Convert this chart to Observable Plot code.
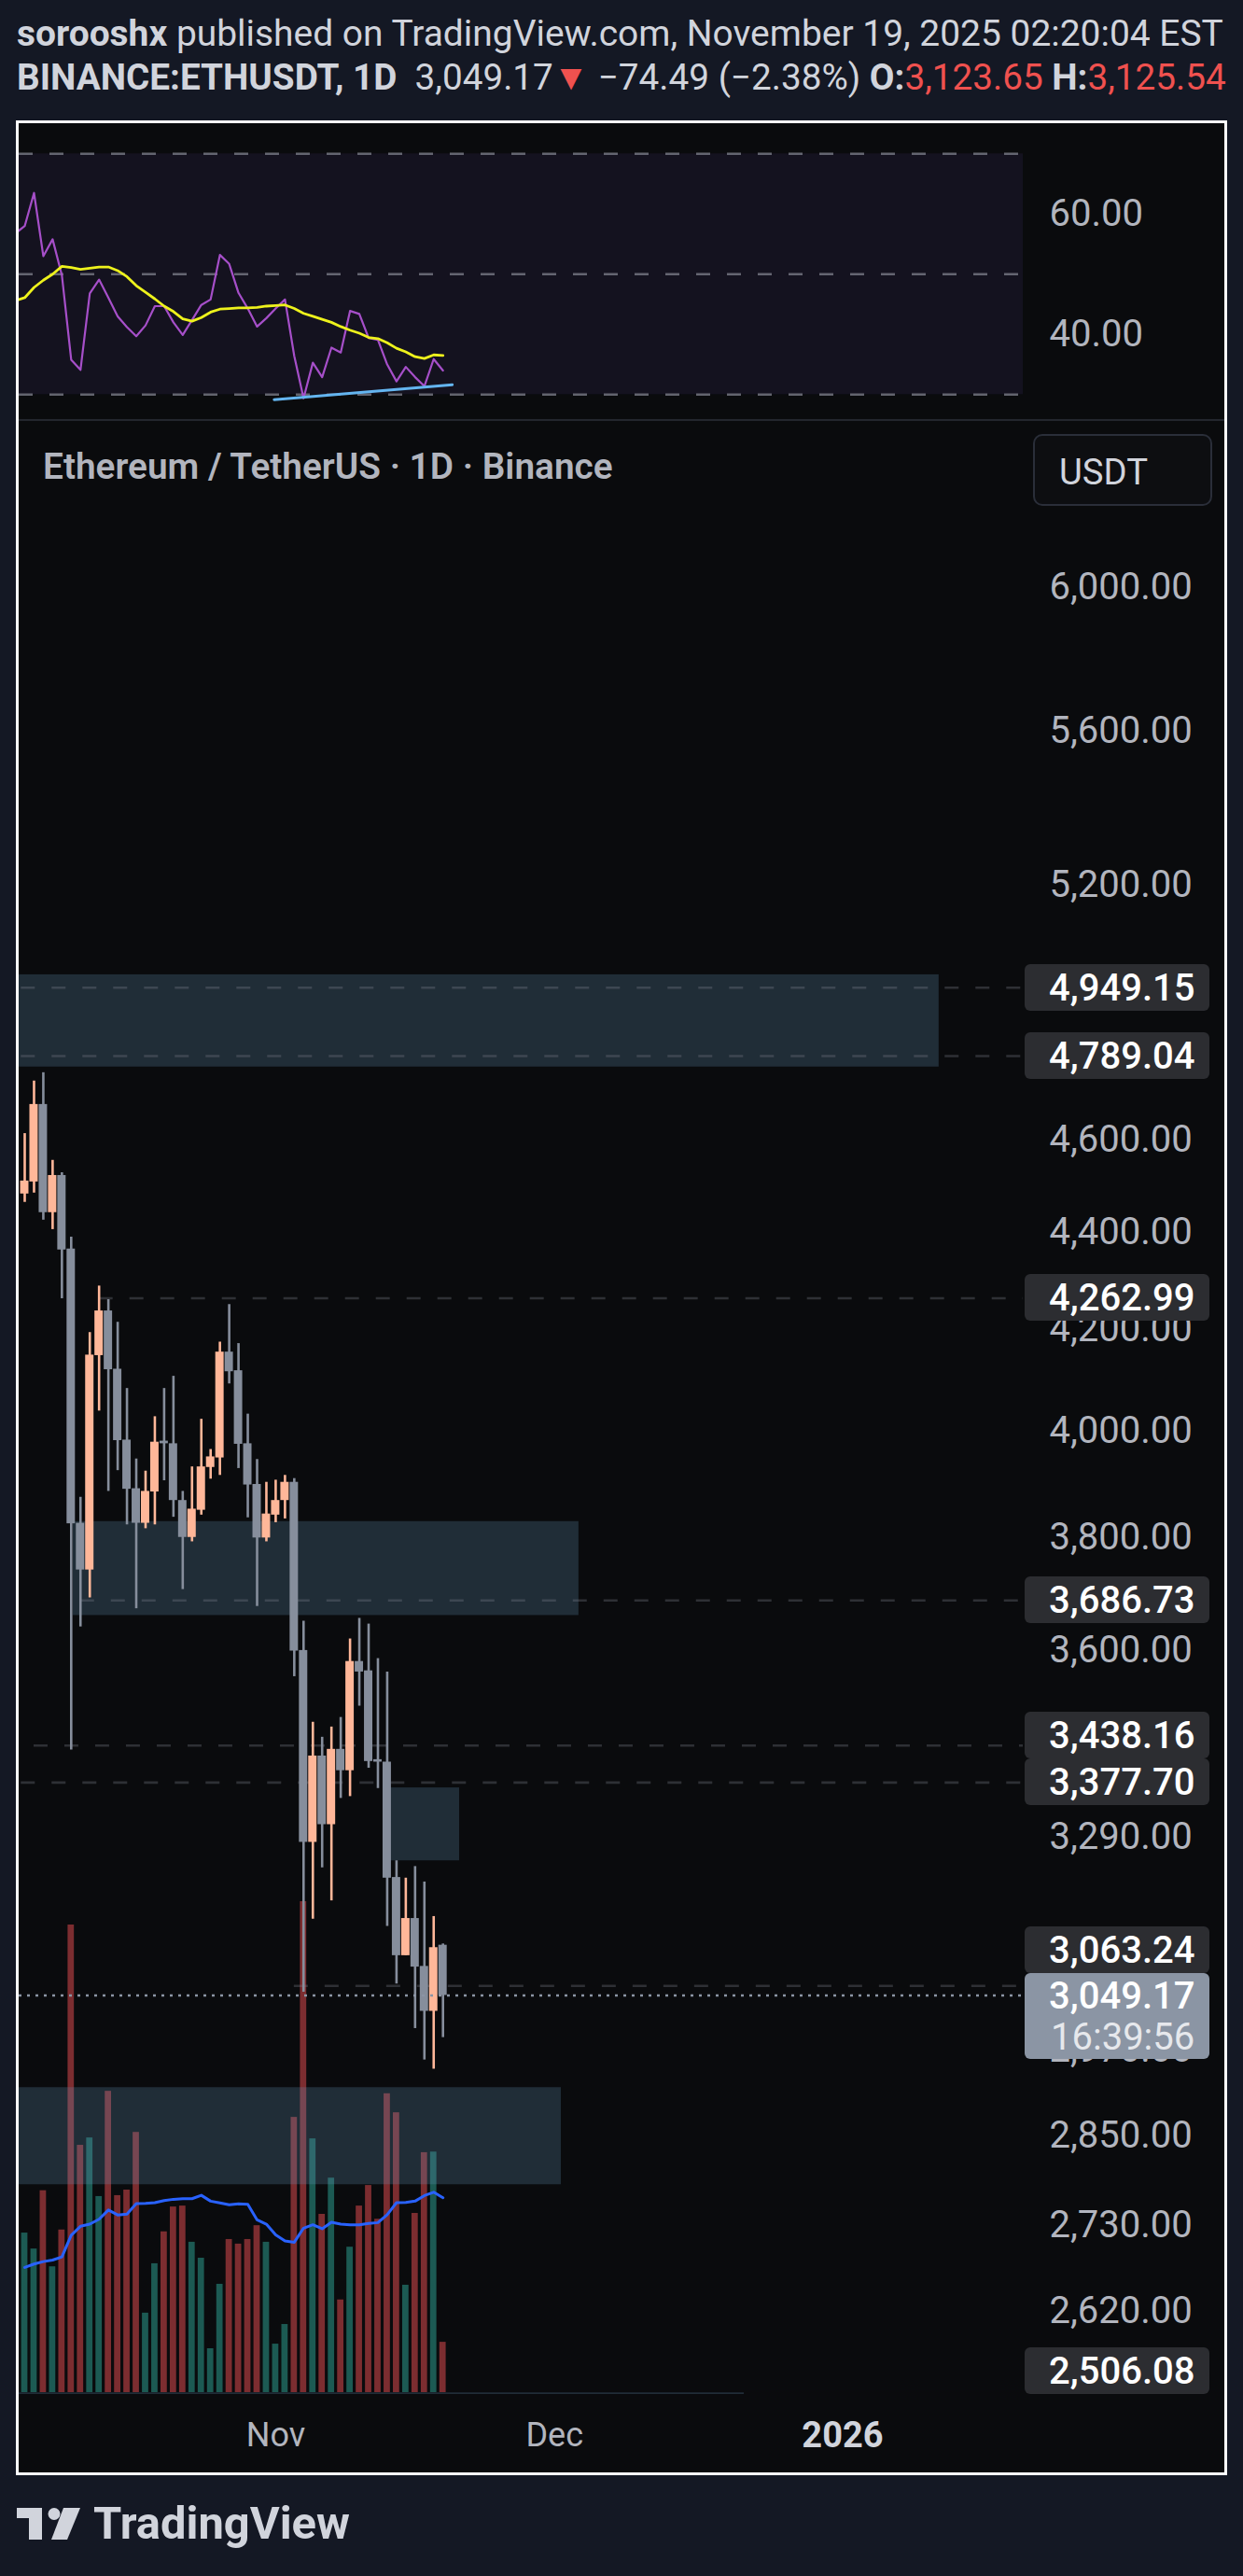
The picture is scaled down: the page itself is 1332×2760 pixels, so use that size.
<!DOCTYPE html>
<html><head><meta charset="utf-8">
<script src="https://cdn.jsdelivr.net/npm/d3@7"></script>
<script src="https://cdn.jsdelivr.net/npm/@observablehq/plot@0.6"></script>
<style>
html,body{margin:0;padding:0;background:#141824;}
#page{position:relative;width:1332px;height:2760px;overflow:hidden;background:#141824;font-family:Roboto,"Noto Sans",sans-serif;}
.txt{position:absolute;white-space:nowrap;line-height:1;}
.box{position:absolute;box-sizing:border-box;}
</style></head><body><div id="page"></div>
<script>
// ---------------- DATA ----------------
const firstDay = "2025-10-05", endDay = "2025-11-20";      // daily candles Oct 5 .. Nov 19
const opens  = [4482,4508,4679,4442,4522,4365,3826,3741,4147,4237,4120,3982,3890,3826,3884,3980,3975,3868,3800,3850,3930,3948,4154,4117,3975,3898,3799,3841,3868,3902,3599,3282,3421,3310,3432,3397,3580,3564,3415,3411,3227,3108,3164,3092,3026,3123.65];
const highs  = [4614,4732,4751,4555,4528,4390,3874,4193,4288,4260,4214,4082,3946,3923,4027,4082,4106,3885,3931,4022,3964,4174,4250,4171,4032,3945,3902,3906,3915,3909,3650,3477,3452,3469,3485,3619,3655,3645,3585,3562,3253,3226,3244,3220,3167,3125.54];
const lows   = [4464,4484,4426,4406,4262,3431,3640,3691,4038,3885,3924,3823,3672,3816,3823,3905,3837,3706,3792,3841,3908,3915,4091,3928,3836,3676,3792,3827,3834,3554,3054,3163,3242,3191,3352,3355,3504,3401,3368,3152,3066,3108,3001,2956,2943,2988];
const closes = [4510,4679,4442,4522,4363,3825,3741,4148,4237,4119,3981,3889,3826,3885,3978,3975,3868,3800,3852,3931,3950,4154,4115,3974,3897,3799,3843,3868,3902,3598,3282,3421,3310,3432,3397,3580,3562,3412,3411,3226,3108,3164,3091,3026,3120,3049.17];
const volumes  = [520,468,658,410,530,1524,806,830,639,982,642,660,848,259,420,524,605,608,490,438,143,353,499,484,499,544,490,158,222,897,1600,827,581,699,302,474,608,675,565,974,912,350,584,782,784,164]; // K ETH
const volumeMA = [408,419,427,432,442,513,542,549,565,595,579,582,616,617,619,626,630,632,632,643,624,618,612,615,614,563,549,514,494,490,536,547,534,555,549,547,547,551,554,580,619,620,624,642,653,635];
// RSI pane (starts one day earlier, Oct 4)
const rsiFirstDay = "2025-10-04";
const rsiValues = [56.8,58.0,63.5,53.0,55.8,49.8,35.8,34.1,46.8,49.1,46.1,43.0,41.2,39.7,41.5,44.7,44.7,42.0,39.9,42.4,44.9,45.8,53.2,51.7,46.9,44.3,41.3,42.7,44.3,45.8,36.4,29.4,35.3,32.9,37.8,37.0,43.9,43.4,39.4,39.1,35.0,32.2,34.6,32.9,31.4,35.9,34.0];
const rsiMA     = [45.6,46.1,47.8,49.0,50.0,51.3,51.1,50.8,51.0,51.2,51.2,50.6,49.6,48.1,47.0,45.9,44.7,43.8,42.6,42.2,42.8,43.7,44.2,44.3,44.4,44.4,44.5,44.7,44.8,44.9,44.3,43.5,43.0,42.5,42.0,41.3,40.7,40.2,39.5,39.3,38.6,37.7,37.1,36.3,36.0,36.6,36.5];
const rsiLevels = [70, 50, 30];
const rsiTicks = [60, 40];
const rsiTrendDates = ["2025-10-31T20:10Z", "2025-11-20T00:00Z"];
const rsiTrendValues = [29.16, 31.64];
// Horizontal levels drawn on the chart
const levelPrices = [4949.15, 4789.04, 4262.99, 3686.73, 3438.16, 3377.70, 3063.24];
const levelStarts = ["2025-09-28T00:00Z","2025-09-28T00:00Z","2025-10-13T00:00Z","2025-10-11T00:00Z","2025-10-06T00:00Z","2025-09-28T00:00Z","2025-11-03T00:00Z"];
// Zones (rectangles)
const zoneStarts = ["2025-09-28T00:00Z","2025-10-10T05:00Z","2025-11-13T07:00Z","2025-09-28T00:00Z","2025-09-28T00:00Z"];
const zoneEnds   = ["2026-01-11T09:00Z","2025-12-03T15:00Z","2025-11-20T19:00Z","2025-12-01T17:30Z","2025-12-21T10:00Z"];
const zoneLows   = [4764, 3660, 3253, 2784, 2506.08];
const zoneHighs  = [4980, 3829, 3369, 2917, 2519];
// Axis
const priceTicks = [6000,5600,5200,4600,4400,4200,4000,3800,3600,3290,2970,2850,2730,2620];
const priceLabels = [4949.15, 4789.04, 4262.99, 3686.73, 3438.16, 3377.70, 3063.24, 2506.08];
const lastPrice = 3049.17, countdown = "16:39:56";
const timeTicks = ["2025-11-01", "2025-12-01"], timeLabels = ["Nov", "Dec"];
const yearTick = "2026-01-01", yearLabel = "2026";

// ---------------- LAYOUT ----------------
const DAY = 864e5;
const page = document.getElementById("page");
const FONT = "Roboto, 'Noto Sans', sans-serif";
const UP = "#ffb799", DOWN = "#868e9c", VUP = "#1c5a53", VDOWN = "#7c2d30";
const PX_PER_DAY = 9.96, X0 = 26, XL = 20, XR = 1096;
const dates = d3.utcDay.range(new Date(firstDay), new Date(endDay));
const t0 = +dates[0];
const xDomain = [new Date(t0 - (X0 - XL) / PX_PER_DAY * DAY), new Date(t0 + (XR - X0) / PX_PER_DAY * DAY)];
const K = 2229.2, Y4000 = 1532.4;
const priceAt = y => 4000 * Math.exp((Y4000 - y) / K);
const MAIN_TOP = 452, PANE_BOTTOM = 2565, MAIN_H = 2200;
const off = (d, f) => new Date(+d + f * DAY);
const fmt2 = d3.format(",.2f");

const candles = dates.map((d, i) => ({date: d, open: opens[i], high: highs[i], low: lows[i], close: closes[i], vol: volumes[i], volMA: volumeMA[i]}));
const rsiData = d3.utcDay.range(new Date(rsiFirstDay), new Date(endDay)).map((d, i) => ({date: d, rsi: rsiValues[i], ma: rsiMA[i]}));
const trend = rsiTrendDates.map((d, i) => ({date: new Date(d), v: rsiTrendValues[i]}));
const levels = levelPrices.map((p, i) => ({price: p, start: new Date(levelStarts[i])}));
const zones = zoneLows.map((l, i) => ({low: l, high: zoneHighs[i], start: new Date(zoneStarts[i]), end: new Date(zoneEnds[i])}));

function div(cls, css) { const e = document.createElement("div"); e.className = cls; Object.assign(e.style, css); page.appendChild(e); return e; }
function text(html, {left, baseline, fontSize, width, color, weight = 400, center}) {
  const e = div("txt", {left: left + "px", fontSize: fontSize + "px", color, fontWeight: weight, fontFamily: FONT});
  e.innerHTML = html;
  let fs = fontSize;
  if (width) { const w = e.getBoundingClientRect().width; fs = fontSize * width / w; e.style.fontSize = fs + "px"; }
  if (center !== undefined) { const w = e.getBoundingClientRect().width; e.style.left = (center - w / 2) + "px"; }
  e.style.top = (baseline - 0.842 * fs) + "px";
  return e;
}
function place(svg, top) { svg.style.position = "absolute"; svg.style.left = "0px"; svg.style.top = top + "px"; page.appendChild(svg); }

// Header
text('<b>sorooshx</b> published on TradingView.com, November 19, 2025 02:20:04 EST', {left: 18, baseline: 50, fontSize: 35, width: 1293, color: "#d1d4dc"});
text('<b>BINANCE:ETHUSDT, 1D</b>&nbsp; 3,049.17<span style="color:#f0514f">▼</span> −74.49 (−2.38%) <b>O:</b><span style="color:#f0514f">3,123.65</span> <b>H:</b><span style="color:#f0514f">3,125.54</span>', {left: 18, baseline: 97, fontSize: 36, width: 1296, color: "#d1d4dc"});

// Frame
div("box", {left: "17px", top: "129px", width: "1298px", height: "2523px", border: "3px solid #ffffff", background: "#0a0b0d"});
div("box", {left: "20px", top: "449px", width: "1292px", height: "2px", background: "#23262e"});

// RSI pane
const rsiTop = 131, rsiH = 318;
const rsiPlot = Plot.plot({
  width: 1332, height: rsiH, marginLeft: XL, marginRight: 1332 - XR, marginTop: 0, marginBottom: 0,
  style: {background: "transparent", overflow: "visible", fontFamily: FONT},
  x: {type: "utc", domain: xDomain, axis: null},
  y: {domain: [30, 70], range: [422.3 - rsiTop, 164.3 - rsiTop], axis: null},
  marks: [
    Plot.rect([{lo: rsiLevels[2], hi: rsiLevels[0]}], {x1: () => xDomain[0], x2: () => xDomain[1], y1: "lo", y2: "hi", fill: "#14121f"}),
    Plot.ruleY(rsiLevels, {stroke: "#787b86", strokeOpacity: 0.8, strokeDasharray: "15 18", strokeWidth: 2.4}),
    Plot.line(rsiData, {x: "date", y: "rsi", stroke: "#a64fc9", strokeWidth: 2.2, clip: true}),
    Plot.line(rsiData, {x: "date", y: "ma", stroke: "#eef21c", strokeWidth: 2.8, clip: true}),
    Plot.line(trend, {x: "date", y: "v", stroke: "#64b5f0", strokeWidth: 3, clip: true}),
    Plot.text(rsiTicks, {y: d => d, text: d => d3.format(".2f")(d), frameAnchor: "right", dx: 28, textAnchor: "start", lineAnchor: "middle", fill: "#b2b5be", fontSize: 40})
  ]
});
place(rsiPlot, rsiTop);

// Volume overlay (drawn beneath the price marks)
const volPlot = Plot.plot({
  width: 1332, height: MAIN_H, marginLeft: XL, marginRight: 1332 - XR, marginTop: 0, marginBottom: MAIN_H - (PANE_BOTTOM - MAIN_TOP),
  style: {background: "transparent", overflow: "visible"},
  x: {type: "utc", domain: xDomain, axis: null},
  y: {domain: [0, 1600], range: [2563 - MAIN_TOP, 2037 - MAIN_TOP], axis: null},
  color: {type: "identity"},
  marks: [
    Plot.rect(candles, {x1: d => off(d.date, -0.34), x2: d => off(d.date, 0.34), y1: 0, y2: "vol", fill: d => d.close >= d.open ? VUP : VDOWN, clip: true}),
    Plot.line(candles, {x: "date", y: "volMA", stroke: "#2962ff", strokeWidth: 3, clip: true})
  ]
});
place(volPlot, MAIN_TOP);

// Main price pane
const mainPlot = Plot.plot({
  width: 1332, height: MAIN_H, marginLeft: XL, marginRight: 1332 - XR, marginTop: 0, marginBottom: MAIN_H - (PANE_BOTTOM - MAIN_TOP),
  style: {background: "transparent", overflow: "visible", fontFamily: FONT},
  x: {type: "utc", domain: xDomain, axis: null},
  y: {type: "log", domain: [priceAt(PANE_BOTTOM), priceAt(MAIN_TOP)], range: [PANE_BOTTOM - MAIN_TOP, 0], axis: null},
  color: {type: "identity"},
  marks: [
    Plot.rect(zones, {x1: "start", x2: "end", y1: "low", y2: "high", fill: "rgb(98,147,185)", fillOpacity: 0.25, clip: true}),
    Plot.ruleY(levels, {y: "price", x1: "start", x2: () => xDomain[1], stroke: "rgb(125,128,140)", strokeOpacity: 0.32, strokeDasharray: "15 18", strokeWidth: 2.6, clip: true}),
    Plot.ruleX(candles, {x: "date", y1: "low", y2: "high", stroke: d => d.close >= d.open ? UP : DOWN, strokeWidth: 2.6, clip: true}),
    Plot.rect(candles, {x1: d => off(d.date, -0.45), x2: d => off(d.date, 0.45), y1: "open", y2: "close", fill: d => d.close >= d.open ? UP : DOWN, clip: true}),
    Plot.ruleY([lastPrice], {stroke: "#8b95a5", strokeDasharray: "3 6", strokeWidth: 2.6}),
    Plot.text(priceTicks, {y: d => d, text: d => fmt2(d), frameAnchor: "right", dx: 28, textAnchor: "start", lineAnchor: "middle", fill: "#b2b5be", fontSize: 40}),
    Plot.text(timeTicks, {x: d => new Date(d), text: (d, i) => timeLabels[i], frameAnchor: "bottom", dy: 44, lineAnchor: "middle", fill: "#b2b5be", fontSize: 36}),
    Plot.text([yearTick], {x: d => new Date(d), text: () => yearLabel, frameAnchor: "bottom", dy: 44, lineAnchor: "middle", fill: "#d1d4dc", fontSize: 38, fontWeight: 700})
  ]
});
place(mainPlot, MAIN_TOP);

// Price label boxes, stacked like TradingView (bottom-up, no overlap)
const ys = mainPlot.scale("y");
const items = priceLabels.map(v => ({v, y: ys.apply(v) + MAIN_TOP, h: 50, cur: false}));
items.push({v: lastPrice, y: ys.apply(lastPrice) + MAIN_TOP, h: 92, cur: true});
items.sort((a, b) => b.y - a.y);
let limit = PANE_BOTTOM;
for (const it of items) {
  const natBottom = it.cur ? it.y - 23 + it.h : it.y + it.h / 2;
  const bottom = Math.min(natBottom, limit);
  const top = bottom - it.h;
  limit = top;
  div("box", {left: "1098px", top: top + "px", width: "198px", height: it.h + "px", borderRadius: "6px", background: it.cur ? "#8b95a4" : "#2c2d31"});
  if (it.cur) {
    text(fmt2(it.v), {left: 1124, baseline: top + 38, fontSize: 40, color: "#ffffff", weight: 500});
    text(countdown, {left: 1126, baseline: top + 82, fontSize: 40, color: "#e6e8ec"});
  } else {
    text(fmt2(it.v), {left: 1124, baseline: top + it.h / 2 + 14.5, fontSize: 40, color: "#ffffff", weight: 500});
  }
}

// Pane legend and currency button
text("Ethereum / TetherUS · 1D · Binance", {left: 46, baseline: 514, fontSize: 35, width: 611, color: "#b2b5be", weight: 600});
div("box", {left: "1107px", top: "465px", width: "192px", height: "77px", border: "2px solid #2a2e39", borderRadius: "10px", background: "#0d0e11"});
text("USDT", {left: 1135, baseline: 519, fontSize: 36, width: 95, color: "#d1d4dc"});

// Footer logo
const logo = document.createElementNS("http://www.w3.org/2000/svg", "svg");
logo.setAttribute("width", "80"); logo.setAttribute("height", "40");
logo.style.position = "absolute"; logo.style.left = "18px"; logo.style.top = "2687px";
logo.innerHTML = '<rect x="0" y="0" width="27" height="11" fill="#d1d4dc"/><rect x="13" y="0" width="14" height="34" fill="#d1d4dc"/><circle cx="40" cy="6.5" r="6.5" fill="#d1d4dc"/><polygon points="50,0 68,0 54,34 37,34" fill="#d1d4dc"/>';
page.appendChild(logo);
text("TradingView", {left: 100, baseline: 2721, fontSize: 45, width: 275, color: "#d1d4dc", weight: 700});
</script>
</body></html>
